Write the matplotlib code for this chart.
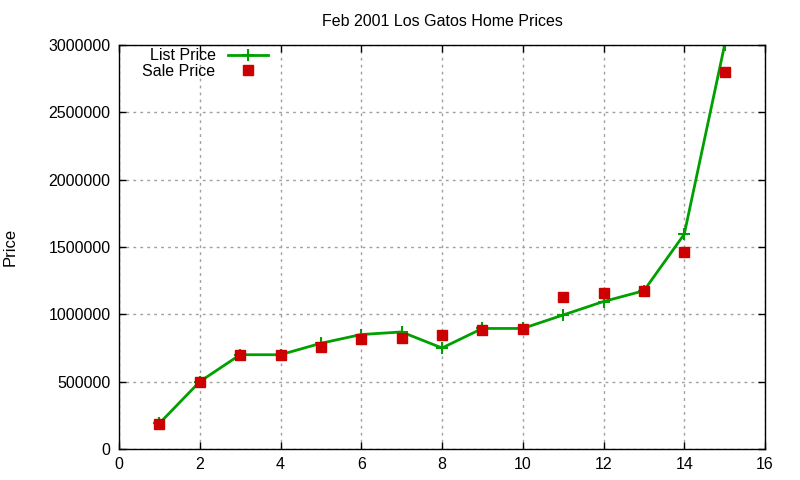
import numpy as np
import matplotlib
matplotlib.use('Agg')
import matplotlib.pyplot as plt

plt.rcParams['font.family'] = ['Liberation Sans', 'DejaVu Sans']

# house number (sorted by price) and prices
house = [1, 2, 3, 4, 5, 6, 7, 8, 9, 10, 11, 12, 13, 14, 15]
list_price = [190000, 500000, 700000, 700000, 785000, 850000, 869000, 750000,
              895000, 895000, 995000, 1095000, 1175000, 1595000, 3000000]
sale_price = [185000, 500000, 700000, 700000, 760000, 815000, 825000, 845000,
              885000, 890000, 1125000, 1160000, 1175000, 1460000, 2800000]

xticks = [0, 2, 4, 6, 8, 10, 12, 14, 16]
yticks = [0, 500000, 1000000, 1500000, 2000000, 2500000, 3000000]

fig = plt.figure(figsize=(8, 4.8), dpi=100)
ax = fig.add_axes([0.14875, 0.0646, 0.8075, 0.8417])

ax.plot(house, list_price, color='#00a000', lw=2, marker='+', ms=9, mew=1.5,
        label='List Price')
ax.plot(house, sale_price, ls='none', color='#cc0000', marker='s', ms=7,
        label='Sale Price')

ax.set_xlim(0, 16)
ax.set_ylim(0, 3000000)
ax.set_xticks(xticks)
ax.set_yticks(yticks)
ax.set_yticklabels([str(v) for v in yticks])
ax.tick_params(direction='in', top=True, right=True, labelsize=11.5, length=5,
               width=1, pad=6)
ax.grid(True, color='#a0a0a0', ls=(0, (2, 3)), lw=1)
for s in ax.spines.values():
    s.set_linewidth(1)

ax.set_title('Feb 2001 Los Gatos Home Prices', fontsize=11.5, pad=14)
ax.set_ylabel('Price', fontsize=12, labelpad=22)

leg = ax.legend(loc='upper left', bbox_to_anchor=(0.024, 1.012), frameon=False,
                fontsize=11.5, markerfirst=False, handlelength=2.5,
                labelspacing=0.05, borderaxespad=0.1)
for t in leg.get_texts():
    t.set_ha('right')
    t.set_position((0, 0))

fig.savefig('out.png', dpi=100)
